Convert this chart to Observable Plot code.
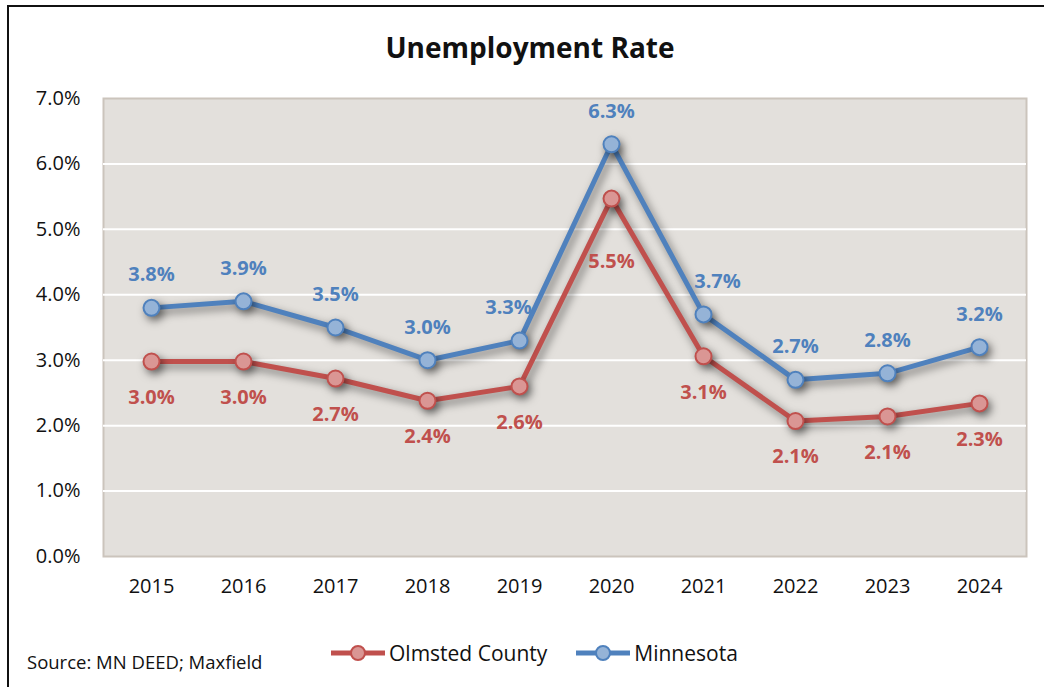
<!DOCTYPE html>
<html>
<head>
<meta charset="utf-8">
<script src="https://cdn.jsdelivr.net/npm/d3@7"></script>
<script src="https://cdn.jsdelivr.net/npm/@observablehq/plot@0.6"></script>
<style>
  body { margin: 0; background: #fff; }
  #chart { position: relative; width: 1044px; height: 687px; overflow: hidden; font-family: "Open Sans", Lato, sans-serif; color: #111; }
  #frame { position: absolute; left: 7px; top: 5px; width: 1100px; height: 800px; border: 2px solid #111; box-sizing: border-box; }
  #title { position: absolute; top: 29px; left: 0; width: 1060px; text-align: center; font-weight: 700; font-size: 28px; line-height: 36px; }
  #plot { position: absolute; left: 0; top: 0; }
  #legend { position: absolute; top: 639px; left: 330px; display: flex; align-items: center; font-size: 21px; line-height: 28px; }
  #legend .item { display: flex; align-items: center; margin-right: 28px; }
  #legend svg { display: block; margin-right: 3px; }
  #source { position: absolute; left: 27px; top: 650px; font-size: 18.5px; line-height: 24px; }
</style>
</head>
<body>
<div id="chart">
  <div id="frame"></div>
  <div id="plot"></div>
  <div id="title">Unemployment Rate</div>
  <div id="legend"></div>
  <div id="source">Source: MN DEED; Maxfield</div>
</div>
<script>
// Annual unemployment rate, percent
const years = [2015, 2016, 2017, 2018, 2019, 2020, 2021, 2022, 2023, 2024];
const olmsted = [2.98, 2.98, 2.72, 2.38, 2.60, 5.47, 3.06, 2.07, 2.14, 2.34];
const minnesota = [3.8, 3.9, 3.5, 3.0, 3.3, 6.3, 3.7, 2.7, 2.8, 3.2];
const seriesNames = ["Olmsted County", "Minnesota"];
const yTicks = [0, 1, 2, 3, 4, 5, 6, 7];

const colors = {
  "Olmsted County": { line: "#c0504d", fill: "#da9694", text: "#c0504d" },
  "Minnesota": { line: "#4f81bd", fill: "#95b3d7", text: "#4f81bd" }
};

const rows = years.flatMap((year, i) => [
  { year, series: seriesNames[0], rate: olmsted[i] },
  { year, series: seriesNames[1], rate: minnesota[i] }
]);

const pct = (v) => v.toFixed(1) + "%";
const font = "'Open Sans', Lato, sans-serif";

// Labels sit above the Minnesota points and below the Olmsted points,
// with a few shifted off the lines where they would collide.
const labelShift = {
  "Minnesota|2019": [-11, 0],
  "Minnesota|2021": [14, 0],
  "Olmsted County|2020": [0, 27]
};

const labelMarks = rows.map((d) => {
  const [sx, sy] = labelShift[d.series + "|" + d.year] || [0, 0];
  const base = d.series === "Minnesota" ? -33 : 36;
  return Plot.text([d], {
    x: "year", y: "rate", text: (r) => pct(r.rate),
    dx: sx, dy: base + sy,
    fill: colors[d.series].text, fontWeight: 700, fontSize: 20
  });
});

const plot = Plot.plot({
  width: 1044,
  height: 610,
  marginLeft: 103,
  marginRight: 18,
  marginTop: 98,
  marginBottom: 54,
  style: { fontFamily: font, background: "transparent", overflow: "visible" },
  x: { type: "point", domain: years, padding: 0.5 },
  y: { domain: [0, 7] },
  marks: [
    Plot.frame({ fill: "#e3e0dc", stroke: "#cbc4bc", strokeWidth: 2 }),
    Plot.ruleY(yTicks.filter((t) => t > 0 && t < 7), { stroke: "#ffffff", strokeWidth: 2 }),
    Plot.axisY(yTicks, { tickSize: 0, tickPadding: 23, tickFormat: pct, fontSize: 20, fill: "#111", label: null }),
    Plot.axisX({ tickSize: 0, tickPadding: 22, fontSize: 20, fill: "#111", label: null, tickFormat: (d) => String(d) }),
    ...seriesNames.flatMap((s) => [
      Plot.line(rows.filter((d) => d.series === s), { x: "year", y: "rate", stroke: colors[s].line, strokeWidth: 5, strokeLinejoin: "round" }),
      Plot.dot(rows.filter((d) => d.series === s), { x: "year", y: "rate", r: 8, fill: colors[s].fill, stroke: colors[s].line, strokeWidth: 2 })
    ]),
    ...labelMarks
  ]
});

// soft drop shadow under the series lines and markers
plot.querySelectorAll('g[aria-label="line"], g[aria-label="dot"]').forEach((g) => {
  g.style.filter = "drop-shadow(3px 4px 4px rgba(0,0,0,0.5))";
});

document.getElementById("plot").appendChild(plot);

// legend
const legend = d3.select("#legend");
seriesNames.forEach((s) => {
  const item = legend.append("div").attr("class", "item");
  const sw = item.append("svg").attr("width", 56).attr("height", 20);
  sw.append("line").attr("x1", 1).attr("x2", 55).attr("y1", 10).attr("y2", 10)
    .attr("stroke", colors[s].line).attr("stroke-width", 5);
  sw.append("circle").attr("cx", 28).attr("cy", 10).attr("r", 7)
    .attr("fill", colors[s].fill).attr("stroke", colors[s].line).attr("stroke-width", 2);
  item.append("span").text(s);
});
</script>
</body>
</html>
